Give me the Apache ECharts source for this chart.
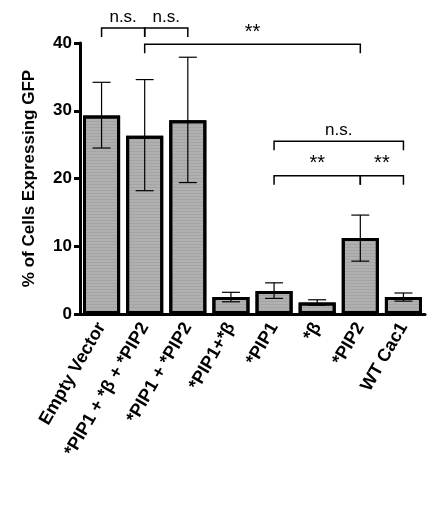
<!DOCTYPE html><html><head><meta charset="utf-8"><script src="https://cdn.jsdelivr.net/npm/echarts@6/dist/echarts.min.js"></script></head><body style="margin:0"><div id="c" style="width:444px;height:508px"></div><script>
const categories=['Empty Vector','*PIP1 + *β + *PIP2','*PIP1 + *PIP2','*PIP1+*β','*PIP1','*β','*PIP2','WT Cac1'];
const means=[29.3,26.3,28.6,2.5,3.4,1.7,11.2,2.5];
const errUp=[34.2,34.6,37.9,3.2,4.6,2.1,14.6,3.1];
const errLow=[24.5,18.2,19.4,1.8,2.3,1.3,7.8,1.9];
const brackets=[[0,1,42.2,'n.s.'],[1,2,42.2,'n.s.'],[1,6,39.8,'**'],[4,7,25.5,'n.s.'],[4,6,20.4,'**'],[6,7,20.4,'**']];
const ch=echarts.init(document.getElementById('c'));
const F='Arial, Liberation Sans';
ch.setOption({animation:false,
grid:{left:80,right:19,top:43,bottom:194},
xAxis:{type:'category',data:categories,axisLine:{lineStyle:{color:'#000',width:3}},axisTick:{show:false},
 axisLabel:{rotate:60,color:'#000',fontWeight:'bold',fontSize:18,fontFamily:F,margin:10,interval:0}},
yAxis:{min:0,max:40,interval:10,name:'% of Cells Expressing GFP',nameLocation:'middle',nameGap:42,
 nameTextStyle:{color:'#000',fontWeight:'bold',fontSize:17,fontFamily:F},
 axisLine:{show:true,lineStyle:{color:'#000',width:3}},axisTick:{show:true,length:6,lineStyle:{width:3,color:'#000'}},
 splitLine:{show:false},axisLabel:{color:'#000',fontWeight:'bold',fontSize:17,fontFamily:F}},
series:[{type:'bar',data:means,barCategoryGap:'14%',itemStyle:{color:'#b0b0b0',borderColor:'#000',borderWidth:3,
 decal:{symbol:'circle',symbolSize:0.5,color:'rgba(60,60,60,0.6)',dashArrayX:[1,0],dashArrayY:[3,0],symbolKeepAspect:true}}},
{type:'custom',data:means.map((m,i)=>[i,errLow[i],errUp[i]]),z:5,renderItem:(p,api)=>{
 const lo=api.coord([api.value(0),api.value(1)]),hi=api.coord([api.value(0),api.value(2)]);const w=9;
 const st={stroke:'#000',lineWidth:1.2};
 return {type:'group',children:[{type:'line',shape:{x1:lo[0],y1:lo[1],x2:hi[0],y2:hi[1]},style:st},
 {type:'line',shape:{x1:lo[0]-w,y1:lo[1],x2:lo[0]+w,y2:lo[1]},style:st},
 {type:'line',shape:{x1:hi[0]-w,y1:hi[1],x2:hi[0]+w,y2:hi[1]},style:st}]};}},
{type:'custom',data:brackets,clip:false,z:6,renderItem:(p,api)=>{
 const a=api.coord([api.value(0),api.value(2)]),b=api.coord([api.value(1),api.value(2)]);const h=9;
 const st={stroke:'#000',lineWidth:1.5,fill:null};
 return {type:'group',children:[{type:'polyline',shape:{points:[[a[0],a[1]+h],[a[0],a[1]],[b[0],b[1]],[b[0],b[1]+h]]},style:st},
 {type:'text',x:(a[0]+b[0])/2,y:a[1]-2,style:{text:brackets[p.dataIndex][3],textAlign:'center',textVerticalAlign:'bottom',fontSize:brackets[p.dataIndex][3]=='**'?20:17,fontWeight:'normal',fontFamily:F,fill:'#000'}}]};}}
]});
</script></body></html>
